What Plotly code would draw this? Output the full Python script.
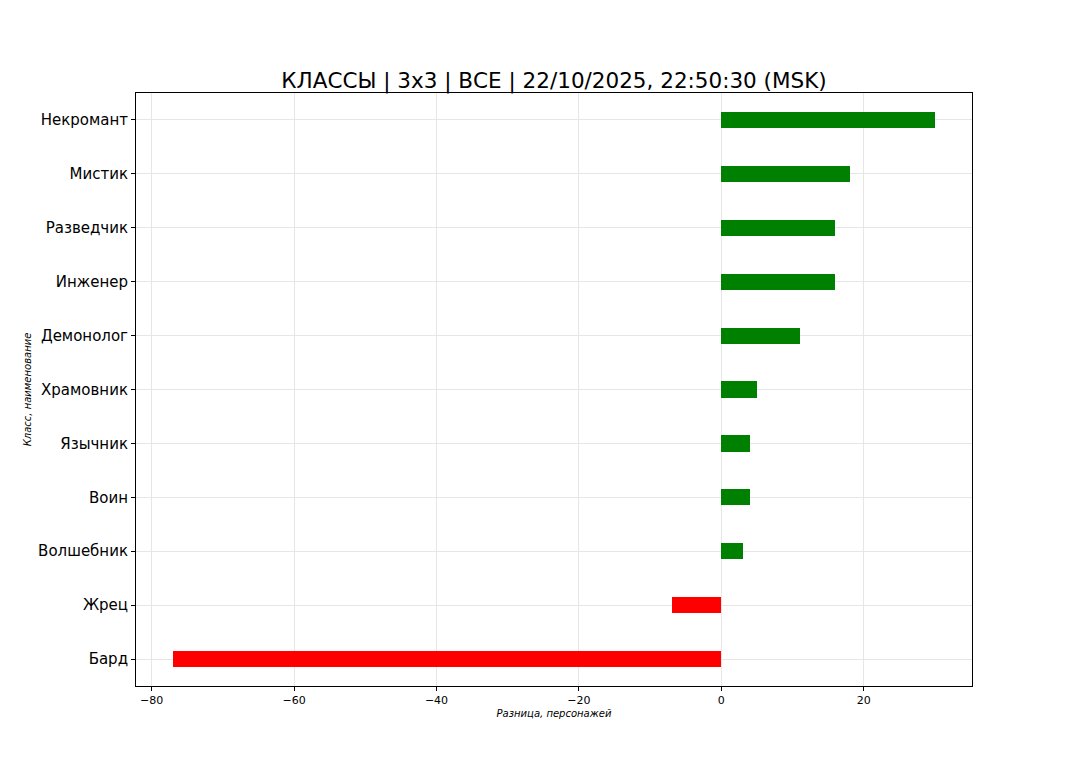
import plotly.graph_objects as go

classes = ["Бард", "Жрец", "Волшебник", "Воин", "Язычник", "Храмовник",
           "Демонолог", "Инженер", "Разведчик", "Мистик", "Некромант"]
diffs = [-77, -7, 3, 4, 4, 5, 11, 16, 16, 18, 30]
colors = ["red" if v < 0 else "green" for v in diffs]
x_ticks = [-80, -60, -40, -20, 0, 20]

fig = go.Figure(go.Bar(
    x=diffs, y=classes, orientation="h", width=0.3,
    marker=dict(color=colors, line=dict(width=0)),
))

font = "DejaVu Sans, Liberation Sans, sans-serif"
fig.update_layout(
    width=1080, height=771,
    paper_bgcolor="white", plot_bgcolor="white",
    margin=dict(l=128, r=116, t=85, b=93),
    title=dict(text="КЛАССЫ | 3x3 | ВСЕ | 22/10/2025, 22:50:30 (MSK)",
               x=(554 - 8) / 1080, xanchor="center", y=1 - 72 / 771, yanchor="middle",
               font=dict(family=font, size=21.5, color="black")),
    showlegend=False,
    bargap=0,
)
fig.update_xaxes(
    range=[-82.2, 35.2], tickvals=x_ticks, ticks="outside", ticklen=4,
    tickcolor="black", showline=True, linecolor="black", linewidth=1, mirror=True,
    showgrid=True, gridcolor="#e6e6e6", gridwidth=1, zeroline=False,
    tickfont=dict(family=font, size=11, color="black"),
    title=dict(text="<i>Разница, персонажей</i>", standoff=3,
               font=dict(family=font, size=10, color="black")),
)
fig.update_yaxes(
    type="category", categoryorder="array", categoryarray=classes,
    range=[-0.5, 10.5], ticks="outside", ticklen=4, tickcolor="black",
    showline=True, linecolor="black", linewidth=1, mirror=True,
    showgrid=True, gridcolor="#e6e6e6", gridwidth=1, zeroline=False,
    tickfont=dict(family=font, size=15, color="black"),
    title=dict(text="<i>Класс, наименование</i>", standoff=4,
               font=dict(family=font, size=10, color="black")),
)
fig.write_html("out.html")
